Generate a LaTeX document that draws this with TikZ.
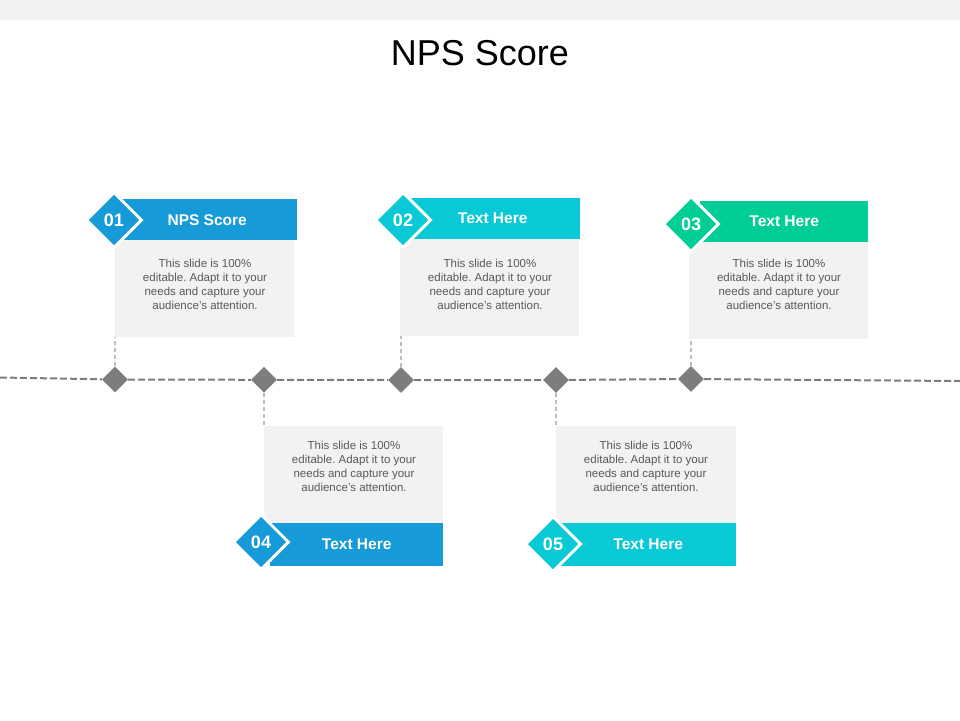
\documentclass[tikz,border=0pt]{standalone}
\usepackage{fontspec}
\setmainfont{Liberation Sans}
\usetikzlibrary{shapes.geometric}
\definecolor{npsblue}{RGB}{22,154,216}
\definecolor{npscyan}{RGB}{10,201,214}
\definecolor{npsgreen}{RGB}{0,206,150}
\definecolor{cardgray}{RGB}{242,242,242}
\definecolor{notegray}{RGB}{89,89,89}
\definecolor{markgray}{RGB}{125,125,125}
\definecolor{linkgray}{RGB}{190,190,190}
\frenchspacing

\begin{document}
\begin{tikzpicture}[
  x = 1pt, y = -1pt,
  head/.style = {rectangle, anchor = north west, minimum height = 41pt,
    inner sep = 0pt, text = white, font = \fontsize{15.5}{17}\selectfont\bfseries},
  card/.style = {rectangle, fill = cardgray, anchor = north west,
    minimum width = 179pt, minimum height = 97pt, inner sep = 0pt},
  note/.style = {align = center, inner sep = 0pt, text = notegray,
    font = \fontsize{11.5}{14}\selectfont},
  badge/.style = {diamond, draw = white, line width = 3pt, minimum size = 56pt,
    inner sep = 0pt, text = white, font = \fontsize{18}{18}\selectfont\bfseries},
  stop/.style = {diamond, fill = markgray, minimum size = 26pt, inner sep = 0pt},
  timeline/.style = {draw = markgray, line width = 2pt, dash pattern = on 7pt off 3pt},
  link/.style = {draw = linkgray, line width = 1.5pt, dash pattern = on 4pt off 3pt}
]
\useasboundingbox (0,0) rectangle (960,720);
\fill[cardgray] (0,0) rectangle (960,20);

% Title
\node[font = \fontsize{36}{40}\selectfont] (title) at (480,53) {NPS Score};

% Upper cards
\node[card] (b1) at (115,240) {};
\node[card] (b2) at (400,239) {};
\node[card] (b3) at (689,242) {};
\node[head, fill = npsblue, minimum width = 180pt] (h1) at (117,199) {NPS Score};
\node[head, fill = npscyan, minimum width = 175pt] (h2) at (405,198) {Text Here};
\node[head, fill = npsgreen, minimum width = 168pt] (h3) at (700,201) {Text Here};
\node[badge, fill = npsblue] (n1) at (114,220) {01};
\node[badge, fill = npscyan] (n2) at (403,220) {02};
\node[badge, fill = npsgreen] (n3) at (691,224) {03};
\node[note] (t1) at (205,284) {This slide is 100\%\\editable. Adapt it to your\\needs and capture your\\audience’s attention.};
\node[note] (t2) at (490,284) {This slide is 100\%\\editable. Adapt it to your\\needs and capture your\\audience’s attention.};
\node[note] (t3) at (779,284) {This slide is 100\%\\editable. Adapt it to your\\needs and capture your\\audience’s attention.};

% Lower cards
\node[card] (b4) at (264,426) {};
\node[card, minimum width = 180pt] (b5) at (556,426) {};
\node[head, fill = npsblue, minimum width = 173pt, minimum height = 43pt] (h4) at (270,523) {Text Here};
\node[head, fill = npscyan, minimum width = 176pt, minimum height = 43pt] (h5) at (560,523) {Text Here};
\node[badge, fill = npsblue] (n4) at (261,542) {04};
\node[badge, fill = npscyan] (n5) at (553,544) {05};
\node[note] (t4) at (354,466) {This slide is 100\%\\editable. Adapt it to your\\needs and capture your\\audience’s attention.};
\node[note] (t5) at (646,466) {This slide is 100\%\\editable. Adapt it to your\\needs and capture your\\audience’s attention.};

% Timeline
\coordinate (tl) at (0,377.5);
\coordinate (tr) at (960,381);
\node[stop] (m1) at (115,379.5) {};
\node[stop] (m2) at (264,379.8) {};
\node[stop] (m3) at (401,380) {};
\node[stop] (m4) at (556,380) {};
\node[stop] (m5) at (691,379) {};
\draw[timeline] (tl) -- (m1) -- (m2) -- (m3) -- (m4) -- (m5) -- (tr);

% Links
\draw[link] (m1) -- (m1 |- b1.south);
\draw[link] (m2) -- (m2 |- b4.north);
\draw[link] (m3) -- (m3 |- b2.south);
\draw[link] (m4) -- (m4 |- b5.north);
\draw[link] (m5) -- (m5 |- b3.south);
\end{tikzpicture}
\end{document}
